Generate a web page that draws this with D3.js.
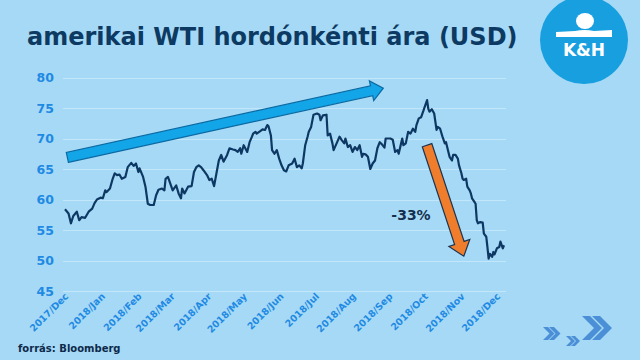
<!DOCTYPE html>
<html>
<head>
<meta charset="utf-8">
<script src="https://cdn.jsdelivr.net/npm/d3@7"></script>
<style>
    body { margin: 0; background: #a6d9f5; }
    svg { display: block; font-family: "DejaVu Sans", Verdana, sans-serif; }
</style>
</head>
<body>
<div id="chart"></div>
<script>
const title = "amerikai WTI hordónkénti ára (USD)";
const source = "forrás: Bloomberg";
const changeLabel = "-33%";
const startDate = new Date(2017, 11, 1);

// calendar days after 2017-12-01
const dayOffsets = [0,3,5,7,10,12,14,17,20,23,25,27,30,32,34,35,38,40,42,44,
    46,48,51,53,56,58,60,62,63,66,68,70,72,75,77,79,82,84,85,87,
    91,94,96,98,99,101,104,107,109,111,113,115,117,120,122,124,126,128,130,132,
    134,137,139,142,144,146,148,149,151,154,156,158,159,161,162,165,167,169,171,172,
    174,175,177,179,181,183,185,187,189,192,194,196,198,200,201,203,205,206,208,210,
    213,215,216,218,221,222,224,226,227,230,232,234,236,237,239,241,243,245,247,249,
    251,252,254,256,258,260,262,264,266,268,270,271,275,277,279,281,282,285,286,288,
    290,292,294,296,297,299,301,303,304,306,307,308,310,312,314,315,317,319,321,322,
    324,325,327,328,330,332,333,335,336,337,339,340,342,343,344,346,347,348,349,351,
    353,354,356,357,358,359,361,362,363,365,367,368,370,371];

// WTI, USD / barrel
const prices = [58.4,57.7,56.1,57.3,58.0,56.6,57.1,57.0,58.0,58.5,
    59.4,60.0,60.3,60.2,61.5,61.2,61.8,63.2,64.3,64.0,
    64.1,63.4,63.7,65.3,66.0,65.5,65.9,64.5,65.1,63.7,
    62.1,59.3,59.1,59.1,60.7,61.6,61.8,61.5,63.4,63.7,
    61.5,62.3,61.0,60.2,61.8,61.0,62.1,62.2,64.5,65.3,
    65.6,65.3,64.8,64.0,63.2,63.4,62.2,64.3,66.4,67.3,
    66.2,67.3,68.4,68.2,68.1,67.8,68.4,67.5,68.9,67.8,
    69.4,70.3,70.8,71.1,70.8,71.2,71.5,71.4,72.2,72.0,
    70.5,68.1,67.5,68.1,66.7,65.6,64.8,64.6,65.6,65.9,
    66.7,65.3,65.6,65.1,65.9,68.9,70.3,71.1,71.9,73.9,
    74.1,73.9,73.0,73.8,73.9,70.5,70.8,69.2,68.1,69.4,
    70.3,69.7,69.2,70.0,68.6,68.9,67.8,68.6,68.1,68.9,
    67.0,67.5,67.4,67.0,65.0,65.9,66.4,68.4,69.4,69.0,
    68.5,70.0,70.0,69.8,67.8,68.1,67.5,70.0,68.9,69.2,
    71.1,70.8,71.6,71.1,72.2,73.3,73.5,74.6,75.2,76.3,
    74.9,74.4,74.8,74.1,71.4,71.9,71.6,70.3,69.2,69.4,
    67.8,67.0,66.4,67.3,67.3,66.7,65.6,64.3,63.4,63.2,
    63.4,62.1,61.5,61.0,60.2,59.6,59.3,56.6,56.1,56.3,
    56.2,54.4,53.9,52.2,50.3,51.1,50.6,51.4,51.0,52.0,
    52.2,53.1,52.0,52.5];

const yTicks = [45, 50, 55, 60, 65, 70, 75, 80];

// trend arrows, [day, price] at tail and tip
const upTrend = [[2.5, 66.9], [269.5, 78.25]];
const downTrend = [[306.5, 68.9], [337, 50.7]];

const dayToDate = d => d3.timeDay.offset(startDate, d);

const svg = d3.select("#chart")
    .append("svg")
    .attr("width", 640)
    .attr("height", 360);

svg.append("rect")
    .attr("width", 640)
    .attr("height", 360)
    .style("fill", "#a6d9f5");

const x = d3.scaleTime()
    .domain([startDate, dayToDate(371)])
    .range([65, 504]);

const y = d3.scaleLinear()
    .domain([45, 80])
    .range([291, 77.5]);

// grid lines + y labels
svg.append("g")
    .selectAll("line")
    .data(yTicks)
    .enter()
    .append("line")
    .attr("x1", 63)
    .attr("x2", 506)
    .attr("y1", d => Math.round(y(d)) + 0.5)
    .attr("y2", d => Math.round(y(d)) + 0.5)
    .style("stroke", "#c2e7fb")
    .style("stroke-width", 1);

svg.append("g")
    .selectAll("text")
    .data(yTicks)
    .enter()
    .append("text")
    .attr("x", 54)
    .attr("y", d => y(d) + 4.5)
    .attr("text-anchor", "end")
    .style("font-size", "12.5px")
    .style("font-weight", "bold")
    .style("fill", "#1f8ae4")
    .text(d => d);

// month labels
let months = d3.timeMonth.range(startDate, dayToDate(372));
let fmt = d3.timeFormat("%Y/%b");
svg.append("g")
    .selectAll("text")
    .data(months)
    .enter()
    .append("text")
    .attr("transform", d => "translate(" + (x(d) + 4) + ",297) rotate(-45)")
    .attr("text-anchor", "end")
    .style("font-size", "9.5px")
    .style("font-weight", "bold")
    .style("fill", "#1f8ae4")
    .text(d => fmt(d));

// price line
let points = dayOffsets.map((d, i) => [dayToDate(d), prices[i]]);
let line = d3.line()
    .x(d => x(d[0]))
    .y(d => y(d[1]));

svg.append("path")
    .datum(points)
    .attr("d", line)
    .style("fill", "none")
    .style("stroke", "#0d3864")
    .style("stroke-width", 2.2)
    .style("stroke-linejoin", "round");

// block arrow polygon between two pixel points
function arrowPath(p0, p1, w, headLen, headW) {
    let dx = p1[0] - p0[0], dy = p1[1] - p0[1];
    let len = Math.sqrt(dx * dx + dy * dy);
    let ux = dx / len, uy = dy / len;
    let nx = -uy, ny = ux;
    let bx = p1[0] - ux * headLen, by = p1[1] - uy * headLen;
    let pts = [
        [p0[0] + nx * w, p0[1] + ny * w],
        [bx + nx * w, by + ny * w],
        [bx + nx * headW, by + ny * headW],
        p1,
        [bx - nx * headW, by - ny * headW],
        [bx - nx * w, by - ny * w],
        [p0[0] - nx * w, p0[1] - ny * w]
    ];
    return "M" + pts.map(p => p[0].toFixed(1) + "," + p[1].toFixed(1)).join("L") + "Z";
}

let toPx = d => [x(dayToDate(d[0])), y(d[1])];

svg.append("path")
    .attr("d", arrowPath(toPx(upTrend[0]), toPx(upTrend[1]), 5, 12, 10))
    .style("fill", "#12a6e9")
    .style("stroke", "#0b6aa3")
    .style("stroke-width", 1.2);

svg.append("path")
    .attr("d", arrowPath(toPx(downTrend[0]), toPx(downTrend[1]), 5, 14, 11))
    .style("fill", "#f07d2b")
    .style("stroke", "#1b3552")
    .style("stroke-width", 1.2);

svg.append("text")
    .attr("x", 411)
    .attr("y", 220)
    .attr("text-anchor", "middle")
    .style("font-size", "14px")
    .style("font-weight", "bold")
    .style("fill", "#14304f")
    .text(changeLabel);

// title
svg.append("text")
    .attr("x", 27)
    .attr("y", 45)
    .style("font-size", "24px")
    .style("font-weight", "bold")
    .style("fill", "#0d3a63")
    .text(title);

svg.append("text")
    .attr("x", 18)
    .attr("y", 352)
    .style("font-size", "10px")
    .style("font-weight", "bold")
    .style("fill", "#0d2a4a")
    .text(source);

// K&H logo
let logo = svg.append("g");
logo.append("circle")
    .attr("cx", 584)
    .attr("cy", 40)
    .attr("r", 44)
    .style("fill", "#179fe0");
logo.append("ellipse")
    .attr("cx", 585)
    .attr("cy", 21)
    .attr("rx", 9)
    .attr("ry", 8)
    .style("fill", "white");
logo.append("path")
    .attr("d", "M556,32 L575,31 Q585,29 594,31 L612,30 L612,37 L556,37 Z")
    .style("fill", "white");
logo.append("text")
    .attr("x", 584)
    .attr("y", 56)
    .attr("text-anchor", "middle")
    .style("font-size", "17px")
    .style("font-weight", "bold")
    .style("fill", "white")
    .text("K&H");

// chevrons bottom right
function chevron(x0, y0, h, t) {
    return "M" + x0 + "," + y0 + "L" + (x0 + t) + "," + y0 + "L" + (x0 + t + h / 2) + "," + (y0 + h / 2) +
        "L" + (x0 + t) + "," + (y0 + h) + "L" + x0 + "," + (y0 + h) + "L" + (x0 + h / 2) + "," + (y0 + h / 2) + "Z";
}
let chev = svg.append("g").style("fill", "#4b8fd7");
[[582, 316, 24, 8, 10], [543, 327, 13, 5, 6], [566, 336, 10, 4, 5]].forEach(c => {
    chev.append("path").attr("d", chevron(c[0], c[1], c[2], c[3]));
    chev.append("path").attr("d", chevron(c[0] + c[4], c[1], c[2], c[3]));
});
</script>
</body>
</html>
